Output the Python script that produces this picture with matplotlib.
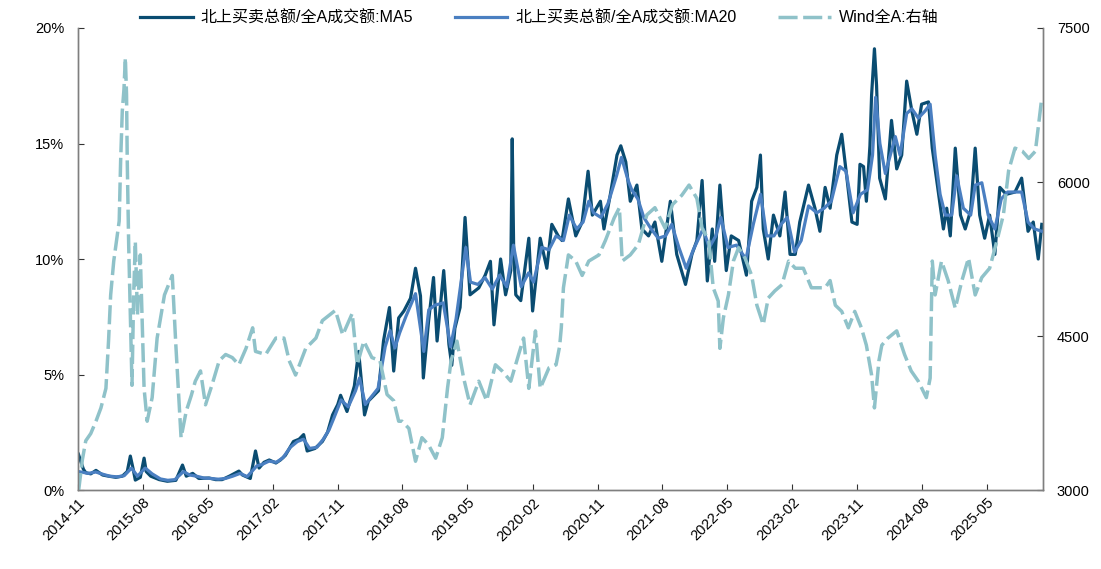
import pandas as pd
import matplotlib
matplotlib.use("Agg")
import matplotlib.pyplot as plt
import matplotlib.dates as mdates
from matplotlib.ticker import FuncFormatter

plt.rcParams['font.family'] = ['Liberation Sans', 'Noto Sans CJK SC', 'DejaVu Sans']

# ---- data ----
ma5_dates = ['2014-11-03', '2014-11-24', '2014-12-04', '2014-12-25', '2015-01-16', '2015-02-13',
             '2015-03-10', '2015-04-10', '2015-05-07', '2015-05-28', '2015-06-10', '2015-06-22',
             '2015-07-01', '2015-07-22', '2015-08-07', '2015-08-16', '2015-09-04', '2015-10-10',
             '2015-11-13', '2015-12-19', '2016-01-16', '2016-02-01', '2016-02-28', '2016-03-25',
             '2016-05-07', '2016-06-04', '2016-07-01', '2016-08-01', '2016-09-10', '2016-09-25',
             '2016-10-28', '2016-11-19', '2016-12-04', '2016-12-25', '2017-01-16', '2017-02-13',
             '2017-03-04', '2017-03-25', '2017-04-28', '2017-05-22', '2017-06-10', '2017-06-25',
             '2017-07-28', '2017-08-28', '2017-09-19', '2017-10-10', '2017-11-01', '2017-11-13',
             '2017-12-10', '2018-01-10', '2018-01-28', '2018-02-22', '2018-03-10', '2018-04-22',
             '2018-05-13', '2018-06-07', '2018-06-25', '2018-07-16', '2018-08-07', '2018-09-04',
             '2018-09-25', '2018-10-16', '2018-10-28', '2018-11-19', '2018-12-10', '2018-12-25',
             '2019-01-22', '2019-02-13', '2019-02-25', '2019-03-10', '2019-04-01', '2019-04-22',
             '2019-05-13', '2019-06-19', '2019-07-16', '2019-08-07', '2019-08-22', '2019-09-19',
             '2019-10-10', '2019-11-01', '2019-11-07', '2019-11-13', '2019-11-22', '2019-12-13',
             '2020-01-16', '2020-02-01', '2020-03-04', '2020-04-01', '2020-04-22', '2020-05-19',
             '2020-06-04', '2020-07-01', '2020-08-01', '2020-08-28', '2020-09-22', '2020-10-10',
             '2020-11-13', '2020-11-28', '2020-12-25', '2021-01-22', '2021-02-07', '2021-02-28',
             '2021-03-19', '2021-04-16', '2021-05-07', '2021-06-04', '2021-07-01', '2021-07-30',
             '2021-09-04', '2021-10-01', '2021-11-07', '2021-12-04', '2021-12-25', '2022-01-16',
             '2022-02-07', '2022-02-28', '2022-03-10', '2022-04-01', '2022-04-28', '2022-05-19',
             '2022-06-19', '2022-07-22', '2022-08-13', '2022-09-04', '2022-09-19', '2022-10-01',
             '2022-10-22', '2022-11-13', '2022-12-10', '2023-01-01', '2023-01-22', '2023-02-13',
             '2023-03-04', '2023-04-10', '2023-05-07', '2023-05-28', '2023-06-19', '2023-07-10',
             '2023-08-07', '2023-08-28', '2023-09-19', '2023-10-10', '2023-11-01', '2023-11-13',
             '2023-11-28', '2023-12-10', '2023-12-25', '2024-01-01', '2024-01-13', '2024-01-22',
             '2024-02-04', '2024-02-28', '2024-03-25', '2024-04-16', '2024-05-07', '2024-05-28',
             '2024-06-19', '2024-07-10', '2024-07-30', '2024-08-28', '2024-09-13', '2024-10-10',
             '2024-10-30', '2024-11-13', '2024-11-28', '2024-12-19', '2025-01-10', '2025-01-30',
             '2025-02-22', '2025-03-13', '2025-04-01', '2025-04-22', '2025-05-13', '2025-06-04',
             '2025-06-25', '2025-07-22', '2025-08-28', '2025-09-25', '2025-10-22', '2025-11-13',
             '2025-12-04', '2025-12-19']
ma5_vals = [1.55, 0.9, 0.75, 0.7, 0.85, 0.65,
            0.6, 0.55, 0.6, 0.8, 1.47, 0.9,
            0.43, 0.55, 1.38, 0.8, 0.6, 0.45,
            0.38, 0.42, 1.08, 0.6, 0.72, 0.5,
            0.52, 0.45, 0.45, 0.6, 0.82, 0.65,
            0.5, 1.69, 0.95, 1.2, 1.3, 1.17,
            1.3, 1.5, 2.1, 2.2, 2.4, 1.69,
            1.8, 2.1, 2.5, 3.25, 3.7, 4.1,
            3.4, 4.5, 6.0, 3.25, 3.85, 4.3,
            6.45, 7.9, 5.15, 7.45, 7.75, 8.3,
            9.6, 8.4, 4.85, 7.3, 9.2, 6.45,
            9.5, 6.3, 5.4, 7.0, 7.9, 11.8,
            8.45, 8.75, 9.3, 9.9, 7.15, 10.0,
            8.45, 9.5, 15.2, 10.5, 8.45, 8.2,
            10.9, 7.75, 10.9, 9.6, 11.5, 11.0,
            10.8, 12.6, 11.0, 11.6, 13.8, 11.9,
            12.5, 11.3, 12.8, 14.5, 14.9, 14.2,
            12.5, 13.2, 11.3, 11.0, 11.6, 9.9,
            12.5, 10.2, 8.9, 10.2, 10.8, 13.4,
            9.05, 11.3, 9.9, 13.2, 9.5, 11.0,
            10.8, 9.3, 12.5, 13.1, 14.5, 11.3,
            10.0, 11.9, 11.0, 12.9, 10.2, 10.2,
            11.6, 13.2, 12.2, 11.2, 13.1, 12.2,
            14.5, 15.4, 13.5, 11.6, 11.5, 14.1,
            14.0, 12.5, 14.9, 17.1, 19.1, 17.5,
            13.5, 12.6, 16.0, 13.9, 14.5, 17.7,
            16.4, 15.4, 16.7, 16.8, 14.8, 12.8,
            11.3, 12.2, 11.0, 14.8, 11.9, 11.3,
            12.1, 14.8, 11.9, 10.9, 11.9, 10.2,
            13.1, 12.8, 12.9, 13.5, 11.2, 11.6,
            10.0, 11.5]

ma20_dates = ['2014-11-03', '2014-12-15', '2015-01-15', '2015-02-15', '2015-03-15', '2015-04-15',
              '2015-05-15', '2015-06-15', '2015-07-10', '2015-08-12', '2015-09-10', '2015-10-15',
              '2015-11-15', '2015-12-15', '2016-01-20', '2016-02-15', '2016-03-15', '2016-04-15',
              '2016-05-15', '2016-06-15', '2016-07-15', '2016-08-15', '2016-09-15', '2016-10-15',
              '2016-11-25', '2016-12-15', '2017-01-15', '2017-02-15', '2017-03-15', '2017-04-15',
              '2017-05-15', '2017-06-10', '2017-07-05', '2017-08-05', '2017-09-01', '2017-09-25',
              '2017-10-15', '2017-11-15', '2017-12-15', '2018-01-15', '2018-02-01', '2018-02-25',
              '2018-03-20', '2018-04-20', '2018-05-20', '2018-06-10', '2018-06-30', '2018-07-20',
              '2018-08-15', '2018-09-25', '2018-10-30', '2018-11-20', '2018-12-15', '2019-01-20',
              '2019-02-20', '2019-03-15', '2019-04-25', '2019-05-15', '2019-06-15', '2019-07-15',
              '2019-08-15', '2019-09-15', '2019-10-15', '2019-11-12', '2019-12-15', '2020-01-15',
              '2020-02-05', '2020-03-10', '2020-04-10', '2020-05-10', '2020-06-10', '2020-07-05',
              '2020-08-05', '2020-09-01', '2020-09-25', '2020-10-15', '2020-11-15', '2020-12-15',
              '2021-01-20', '2021-02-10', '2021-03-10', '2021-03-25', '2021-04-20', '2021-05-15',
              '2021-06-15', '2021-07-15', '2021-08-15', '2021-09-10', '2021-10-10', '2021-11-10',
              '2021-12-10', '2022-01-20', '2022-02-15', '2022-03-15', '2022-04-05', '2022-05-05',
              '2022-06-10', '2022-07-20', '2022-08-20', '2022-09-20', '2022-10-15', '2022-11-15',
              '2022-12-15', '2023-01-10', '2023-02-10', '2023-03-10', '2023-04-10', '2023-05-15',
              '2023-06-15', '2023-07-15', '2023-08-20', '2023-09-15', '2023-10-15', '2023-11-15',
              '2023-12-15', '2024-01-05', '2024-01-18', '2024-02-05', '2024-02-28', '2024-04-10',
              '2024-04-30', '2024-05-28', '2024-06-19', '2024-07-16', '2024-08-13', '2024-09-04',
              '2024-09-25', '2024-10-16', '2024-11-07', '2024-12-04', '2024-12-25', '2025-01-22',
              '2025-02-22', '2025-03-13', '2025-04-10', '2025-05-07', '2025-06-04', '2025-07-01',
              '2025-07-28', '2025-08-28', '2025-09-25', '2025-10-22', '2025-11-19', '2025-12-19']
ma20_vals = [0.8, 0.72, 0.78, 0.68, 0.6, 0.57,
             0.62, 0.95, 0.6, 0.95, 0.7, 0.48,
             0.42, 0.45, 0.8, 0.65, 0.6, 0.52,
             0.5, 0.47, 0.5, 0.6, 0.72, 0.58,
             1.05, 1.1, 1.25, 1.2, 1.4, 1.85,
             2.1, 2.2, 1.8, 1.85, 2.2, 2.6,
             3.1, 3.9, 3.6, 4.3, 4.85, 3.7,
             4.0, 4.4, 6.2, 6.9, 6.15, 6.8,
             7.5, 8.5, 6.0, 7.8, 8.0, 8.1,
             6.2, 7.4, 10.5, 9.0, 8.9, 9.2,
             8.7, 9.3, 8.8, 10.6, 8.8, 9.4,
             9.0, 10.5, 10.4, 11.0, 10.8, 11.9,
             11.3, 11.6, 12.5, 12.0, 11.8, 12.4,
             13.6, 14.4, 13.4, 13.0, 12.6, 11.8,
             11.3, 10.9, 11.0, 11.5, 10.5, 9.6,
             10.4, 11.3, 10.5, 11.0, 11.8, 10.5,
             10.6, 10.0, 11.5, 12.8, 11.0, 11.0,
             11.5, 11.8, 10.3, 10.8, 12.3, 12.0,
             12.2, 12.5, 14.0, 13.8, 12.0, 12.8,
             13.0, 14.5, 17.0, 15.0, 13.7, 15.3,
             14.5, 16.3, 16.5, 16.1, 16.4, 16.7,
             14.5, 12.8, 11.9, 11.9, 13.6, 12.2,
             11.9, 13.2, 13.3, 11.9, 11.3, 12.6,
             12.9, 12.9, 12.9, 11.6, 11.3, 11.2]

wind_dates = ['2014-11-03', '2014-11-20', '2014-12-04', '2014-12-25', '2015-01-16', '2015-02-06',
              '2015-02-27', '2015-03-10', '2015-03-19', '2015-04-01', '2015-04-16', '2015-04-24',
              '2015-04-30', '2015-05-07', '2015-05-14', '2015-05-20', '2015-05-25', '2015-05-28',
              '2015-06-03', '2015-06-17', '2015-06-24', '2015-07-01', '2015-07-10', '2015-07-22',
              '2015-08-07', '2015-08-20', '2015-09-10', '2015-10-01', '2015-11-01', '2015-12-04',
              '2015-12-19', '2016-01-10', '2016-02-01', '2016-02-22', '2016-03-10', '2016-04-01',
              '2016-04-22', '2016-05-19', '2016-06-19', '2016-07-16', '2016-08-13', '2016-09-10',
              '2016-10-10', '2016-11-07', '2016-11-19', '2017-01-01', '2017-02-13', '2017-03-19',
              '2017-04-10', '2017-05-07', '2017-06-19', '2017-08-01', '2017-08-28', '2017-10-22',
              '2017-11-22', '2018-01-01', '2018-01-22', '2018-02-19', '2018-03-25', '2018-04-28',
              '2018-05-28', '2018-06-25', '2018-07-16', '2018-07-30', '2018-08-28', '2018-09-25',
              '2018-10-22', '2018-11-19', '2018-12-19', '2019-01-16', '2019-02-07', '2019-02-22',
              '2019-03-19', '2019-04-16', '2019-05-13', '2019-06-19', '2019-07-22', '2019-08-28',
              '2019-09-25', '2019-11-01', '2019-12-04', '2019-12-25', '2020-01-16', '2020-02-13',
              '2020-03-04', '2020-04-10', '2020-05-10', '2020-05-25', '2020-06-01', '2020-06-10',
              '2020-07-01', '2020-08-01', '2020-08-28', '2020-09-25', '2020-11-07', '2020-12-04',
              '2021-01-10', '2021-02-01', '2021-02-13', '2021-03-19', '2021-04-22', '2021-05-28',
              '2021-07-01', '2021-08-13', '2021-09-13', '2021-10-22', '2021-11-22', '2021-12-25',
              '2022-01-16', '2022-02-13', '2022-03-04', '2022-03-25', '2022-04-01', '2022-04-16',
              '2022-05-07', '2022-05-28', '2022-06-19', '2022-07-16', '2022-08-13', '2022-09-04',
              '2022-10-01', '2022-10-22', '2022-11-19', '2022-12-19', '2023-01-16', '2023-02-13',
              '2023-03-19', '2023-04-22', '2023-05-19', '2023-06-19', '2023-07-10', '2023-08-01',
              '2023-08-28', '2023-09-25', '2023-10-22', '2023-11-19', '2023-12-10', '2024-01-01',
              '2024-01-13', '2024-02-01', '2024-02-13', '2024-03-10', '2024-04-16', '2024-05-19',
              '2024-06-16', '2024-07-16', '2024-08-19', '2024-09-04', '2024-09-13', '2024-09-25',
              '2024-10-22', '2024-11-19', '2024-12-19', '2025-01-16', '2025-02-13', '2025-03-13',
              '2025-04-10', '2025-05-13', '2025-06-13', '2025-07-10', '2025-08-01', '2025-08-28',
              '2025-09-28', '2025-10-25', '2025-11-22', '2025-12-07', '2025-12-19']
wind_vals = [2980, 3300, 3480, 3550, 3670, 3800,
             3990, 4450, 4900, 5230, 5480, 5620,
             6200, 6690, 6900, 7210, 6850, 6200,
             5390, 4020, 4900, 5420, 4700, 5290,
             3990, 3670, 3900, 4480, 4900, 5090,
             4410, 3510, 3770, 3920, 4060, 4160,
             3830, 4020, 4260, 4320, 4290, 4220,
             4380, 4580, 4350, 4320, 4480, 4480,
             4260, 4120, 4380, 4480, 4650, 4750,
             4510, 4720, 4220, 4450, 4290, 4260,
             3930, 3870, 3670, 3670, 3600, 3280,
             3510, 3440, 3310, 3510, 3990, 4260,
             4450, 4090, 3830, 4060, 3870, 4220,
             4160, 4060, 4320, 4480, 3990, 4550,
             3990, 4190, 4220, 4400, 4580, 4970,
             5290, 5230, 5090, 5230, 5290, 5430,
             5650, 5750, 5230, 5290, 5390, 5680,
             5750, 5550, 5780, 5870, 5970, 5840,
             5550, 5430, 4970, 4840, 4380, 4680,
             4900, 5230, 5360, 5260, 5090, 4800,
             4610, 4870, 4940, 5000, 5230, 5160,
             5160, 4970, 4970, 4970, 5040, 4800,
             4740, 4580, 4740, 4580, 4410, 4120,
             3800, 4260, 4410, 4480, 4550, 4320,
             4160, 4060, 3900, 4090, 5230, 4900,
             5230, 5040, 4770, 5040, 5260, 4900,
             5070, 5160, 5430, 5680, 6110, 6330,
             6300, 6230, 6300, 6590, 6820]

tick_dates = pd.date_range('2014-11-01', '2025-05-01', freq='9MS')

c_ma5 = '#0A4C71'
c_ma20 = '#4A7FC1'
c_wind = '#8FC2C9'

fig = plt.figure(figsize=(11.01, 5.69), dpi=100)
ax = fig.add_axes([0.0708, 0.1388, 0.8765, 0.812])
ax2 = ax.twinx()

l1, = ax.plot(pd.to_datetime(ma5_dates), ma5_vals, color=c_ma5, lw=2.3, zorder=2)
l2, = ax.plot(pd.to_datetime(ma20_dates), ma20_vals, color=c_ma20, lw=2.3, zorder=3)
l3, = ax2.plot(pd.to_datetime(wind_dates), wind_vals, color=c_wind, lw=2.5, dashes=(5.5, 1.6))

ax.set_xlim(pd.Timestamp('2014-11-01'), pd.Timestamp('2025-12-24'))
ax.set_ylim(0, 20)
ax.set_yticks([0, 5, 10, 15, 20])
ax.yaxis.set_major_formatter(FuncFormatter(lambda v, p: f'{v:.0f}%'))
ax2.set_ylim(3000, 7500)
ax2.set_yticks([3000, 4500, 6000, 7500])

ax.set_xticks(tick_dates)
ax.xaxis.set_major_formatter(mdates.DateFormatter('%Y-%m'))
for lab in ax.get_xticklabels():
    lab.set_rotation(45)
    lab.set_ha('right')
    lab.set_rotation_mode('anchor')

for a in (ax, ax2):
    a.spines['top'].set_visible(False)
    for s in ('left', 'right', 'bottom'):
        a.spines[s].set_color('#7f7f7f')
        a.spines[s].set_linewidth(1.0)
    a.tick_params(direction='in', length=4, width=0.8, colors='#333333', labelsize=10.5,
                  labelcolor='black')
ax.tick_params(axis='x', pad=4)
ax.tick_params(axis='y', pad=10)
ax2.tick_params(axis='y', pad=10)

ax.legend([l1, l2, l3],
          ['北上买卖总额/全A成交额:MA5', '北上买卖总额/全A成交额:MA20', 'Wind全A:右轴'],
          loc='center', bbox_to_anchor=(0.478, 1.022), ncol=3, frameon=False,
          fontsize=11.5, handlelength=3.3, handletextpad=0.5, columnspacing=2.6)

fig.savefig('out.png', dpi=100)
